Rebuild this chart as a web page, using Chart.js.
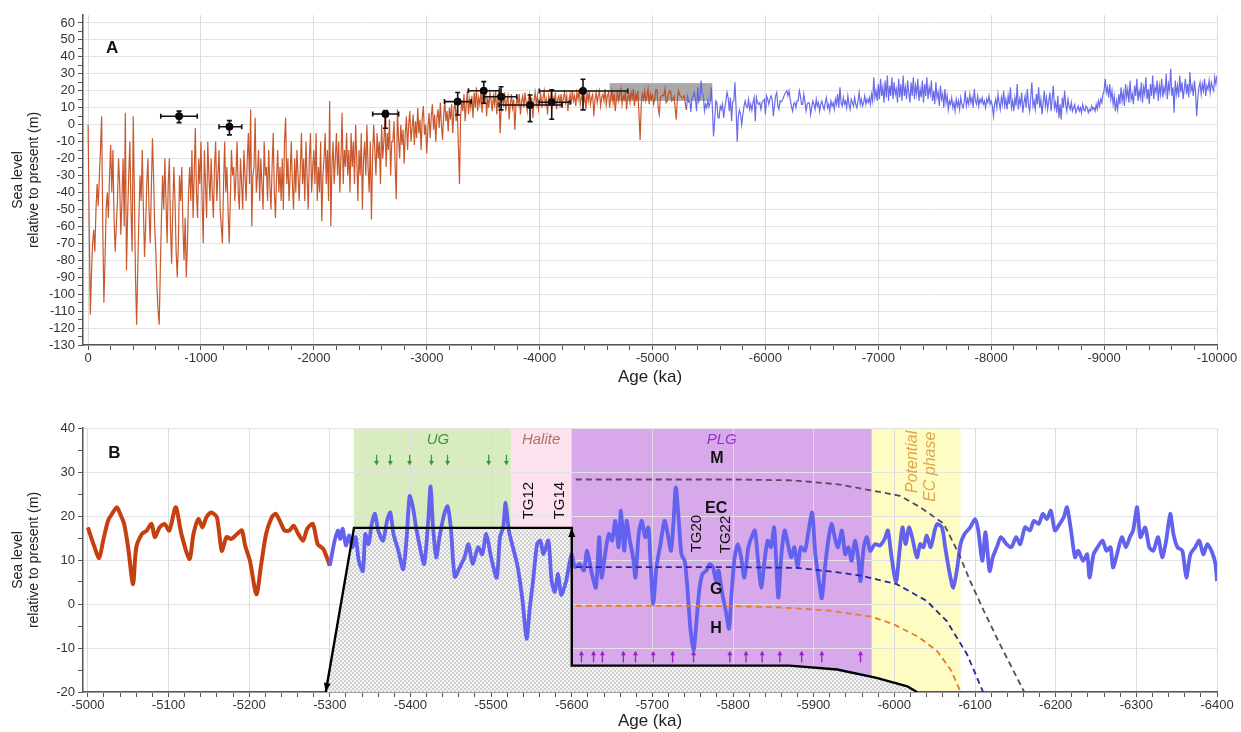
<!DOCTYPE html>
<html><head><meta charset="utf-8">
<script src="https://cdn.jsdelivr.net/npm/chart.js@4.4.1/dist/chart.umd.min.js"></script>
<style>
html,body{margin:0;padding:0;background:#fff;overflow:hidden;}
#wa{position:absolute;left:0;top:0;width:1241px;height:395px;}
#wb{position:absolute;left:0;top:400px;width:1241px;height:332px;}
</style></head><body>
<div id="wa"><canvas id="ca" width="1241" height="395"></canvas></div>
<div id="wb"><canvas id="cb" width="1241" height="332"></canvas></div>
<script>
// ---------------- DATA: panel A ----------------
const A_STEP = -10;
const A_ORANGE_START = 0;
const A_ORANGE = [
0,-60,-112,-88,-70,-62,-75,-50,-35,-48,
-30,-15,5,-60,-105,-80,-50,-40,-55,-30,
-12,-40,-15,-55,-75,-60,-45,-20,-35,-65,
-45,-20,-60,7,-86,-55,-30,-10,-50,-75,
5,-40,-90,-118,-85,-55,-30,-45,-15,-50,
-78,-60,-35,-20,-50,-70,-40,-8,-30,-60,
-75,-95,-110,-118,-85,-55,-30,-50,-20,-45,
-70,-35,-20,-60,-82,-50,-25,-45,-75,-90,
-70,-30,-45,-25,-60,-80,-55,-90,-70,-40,
-25,-45,-15,-55,-30,-2,-40,-55,-20,-35,
-10,-45,-70,-15,-35,-55,-10,-30,-45,-20,
-40,-55,-25,-10,-45,-30,-15,-50,-60,-70,
-35,-10,-40,-25,-50,-70,-45,-15,-30,-25,
-45,-30,-10,-40,-50,-20,-35,-50,-15,-30,
-45,-20,-5,-35,9,-60,-30,-25,4,-40,
-30,-15,-45,-20,-35,-50,-10,-30,-25,-45,
-15,-35,-50,-25,-5,-40,-55,-30,-15,-40,
-25,-45,-20,-50,-10,4,-35,-20,-45,-30,
-10,-35,-50,-20,-40,-15,-30,-45,-25,-5,
-35,-20,-45,-10,-30,-50,-20,-5,-40,-25,
-15,-35,-5,-45,-25,-40,-10,-57,-30,-20,
-5,-35,-15,-45,14,-60,-25,-10,-35,-20,
-5,-30,-10,-40,-20,7,-35,-15,-25,-5,
-30,-15,-40,-5,-25,-10,-35,0,-20,-45,
-15,-30,-5,-50,-20,-10,-30,0,-25,-40,
-10,-56,-20,0,-15,-30,-5,-20,-10,-35,
0,-20,-10,5,-25,-5,-15,3,-30,-10,
-10,2,-25,-44,9,-8,-20,0,-12,-3,
-23,-5,5,-15,0,8,-10,-2,6,-12,
2,-8,10,-5,3,-15,4,11,-6,0,
-17,-2,7,-8,5,12,-3,6,-10,4,
9,-2,13,0,-9,6,14,2,8,-4,
10,3,12,-5,8,15,2,9,-12,-35,
5,14,8,18,2,12,20,6,15,10,
17,4,19,10,22,8,16,12,20,7,
18,12,22,5,16,10,19,14,8,17,
12,20,6,15,18,-5,10,16,12,19,
8,14,17,3,12,18,10,15,-3,11,
16,12,18,6,14,17,10,19,13,8,
15,18,11,16,4,14,19,12,17,9,
14,18,10,16,20,12,15,6,17,13,
18,11,16,14,19,9,15,17,12,18,
10,16,19,13,17,8,15,18,12,20,
14,17,11,19,15,21,12,16,18,13,
17,9,19,14,20,12,16,18,5,15,
19,13,17,20,11,16,18,14,21,12,
17,19,10,16,20,13,18,8,15,19,
14,18,21,12,17,15,20,9,16,18,
13,19,16,21,11,18,15,20,6,-9,
12,18,15,20,14,17,21,12,18,15,
17.4,12,15,20.5,20.5,10,6,16,17,17.4,
17,21,13,14,18,20,19.7,14,15,16.7,
10,3,15,20,17.5,16.7,16,16,17,12.5,
8.7
];
const A_BLUE_START = -5300;
const A_BLUE = [
8.7,16.7,13.3,14,7.5,16,16.7,18.9,15,8,22,13.6,16,26,18,17.4,8,12,10,14.4,
10.6,13,22,10,-7,2,14,13,4,4,
11,9,12,4,10,14,19,16,8,16,
2,13.6,14,25,9.8,-10,5,8.5,6,0,
6,10.6,14,11,10,15,9,12,8.4,13,
16,2,16,13,12,13,9,13,14,15,
6,17,15,12,15,17,15,5,11,17,
19,11,9,14,13.5,14.5,16,18,19,20,
17,19.7,15,11,8,12,13,10,14,14,
20,17,12,12,18,13.5,8,12,13,12.5,
6,
10,14,12,9,15,11,13,8,12,14,
11,9,13,16,10,12,8,14,11,13,
9,15,12,18,10,22,13,11,16,12,
14,10,17,12,9,15,13,11,16,12,
10,14,19,12,15,11,13,17,12,15,
13,16,12,18,14,28,16,20,14,24,
15,27,17,22,13,26,16,29,14,23,
17,28,15,25,18,21,13,27,16,24,
14,29,17,22,15,26,19,13,25,17,
28,15,23,18,27,14,21,16,26,13,
24,17,28,15,22,18,26,14,20,12,
25,16,19,11,23,15,18,10,21,13,
17,9,14,12,16,10,13,8,15,11,
14,9,16,12,10,13,20,11,15,12,
18,13,16,10,21,14,12,17,11,15,
13,16,12,14,10,15,13,17,12,14,
11,5,12,15,10,18,13,9,16,12,
20,11,15,9,17,12,22,10,14,8,
16,11,24,9,15,12,19,7,13,17,
10,21,12,8,16,25,11,14,9,18,
12,22,10,15,6,13,20,11,16,9,
14,19,8,15,23,10,13,7,17,4,
12,3,16,10,20,12,8,15,11,9,
13,8,10,12,7,9,11,8,10,7,
12,9,8,11,10,7,9,8,11,9,
10,8,12,9,14,11,15,13,18,20,
27,19,22,16,24,15,20,12,17,8,
14,9,18,12,22,14,19,11,24,16,
21,13,26,15,18,12,23,17,27,14,
20,16,25,13,22,18,28,15,21,12,
24,17,29,15,22,19,26,14,23,18,
27,16,22,19,30,15,24,20,33,17,
22,7,26,18,23,16,29,19,25,15,
21,27,18,24,16,31,20,23,17,26,
19,5,16,22,25,18,24,20,27,17,
23,21,26,19,25,22,20,28,24,29
];
// dated points with error bars
const A_PTS_AGE       = [-806, -1252, -2634, -3274, -3505, -3658, -3915, -4107, -4384];
const A_PTS_VAL       = [5, -1.2, 6.3, 13.6, 20, 16.5, 11.6, 13.2, 19.9];
const A_PTS_AGE_YOUNG = [-644, -1160, -2521, -3157, -3369, -3502, -3640, -3997, -3997];
const A_PTS_AGE_OLD   = [-967, -1361, -2751, -3393, -3643, -3797, -4196, -4269, -4780];
const A_PTS_VAL_HI    = [8, 2.4, 8.3, 19, 25.4, 22.4, 17.5, 20.5, 26.8];
const A_PTS_VAL_LO    = [1.2, -6, -2.1, 5.7, 12.6, 8.7, 1.8, 3.2, 8.7];
const A_BOX_AGE = [-4620, -5530];
const A_BOX_VAL = [14, 24.5];
const A_X_MAJOR = [0,-1000,-2000,-3000,-4000,-5000,-6000,-7000,-8000,-9000,-10000];
const A_Y_MAJOR = [-130,-120,-110,-100,-90,-80,-70,-60,-50,-40,-30,-20,-10,0,10,20,30,40,50,60];

// ---------------- DATA: panel B ----------------
const B_ORANGE_AGE = [-5000,-5007,-5014,-5019,-5025,-5030,-5036,-5040,-5045,-5050,-5056,-5060,-5067,-5073,-5079,-5083,-5089,-5095,-5101,-5109,-5116,-5126,-5131,-5137,-5142,-5147,-5153,-5160,-5166,-5172,-5178,-5185,-5191,-5195,-5201,-5209,-5215,-5221,-5228,-5233,-5238,-5244,-5250,-5255,-5261,-5267,-5272,-5279,-5285,-5292,-5300];
const B_ORANGE_VAL = [17.4,13.6,10.4,14.4,18.9,20.5,22,20.5,18.2,12.8,4.5,12.8,15.9,16.7,18.2,15.2,17.4,18.2,16.7,22,15.9,10.2,15.9,19.3,17.4,19.7,20.8,19.7,12.1,15.2,14.8,15.9,16.7,13.3,9.8,2.2,9.1,15.9,19.7,20.5,18.9,16.7,16.7,17.8,15.9,14.4,17.1,18.2,13.6,12.5,8.7];
const B_BLUE = [
[-5300,8.7],[-5302,10.6],[-5306,14.4],[-5310,16.7],[-5313,14.8],[-5316,17.1],[-5320,13.3],[-5324,15.6],[-5328,12.9],[-5332,15.2],
[-5336,9.8],[-5341,7.5],[-5344,15.9],[-5348,13.6],[-5352,18.2],[-5356,20.5],[-5360,16.7],[-5366,14.4],[-5371,18.9],[-5375,20.8],
[-5379,15.9],[-5385,12.1],[-5391,7.9],[-5395,14.4],[-5399,24.5],[-5403,22],[-5407,17.4],[-5411,13.6],[-5417,9.1],[-5422,18.9],
[-5425,26.7],[-5428,17.4],[-5432,10.6],[-5436,15.2],[-5442,20.5],[-5446,22.2],[-5450,17.4],[-5455,6.2],[-5461,8.3],[-5467,10.6],
[-5472,13.6],[-5477,9.1],[-5484,12.9],[-5489,11.3],[-5494,15.9],[-5500,10.6],[-5507,6.0],[-5511,15.2],[-5515,17.4],[-5518,23],
[-5522,16.7],[-5527,12.9],[-5533,8.4],[-5539,0.7],[-5544,-7.9],[-5548,-0.8],[-5552,5.2],[-5557,13.6],[-5561,14.4],[-5565,11.3],
[-5571,14.4],[-5575,5.2],[-5579,2.8],[-5583,6.8],[-5587,2.1],[-5593,5.2],[-5597,9.1],[-5600,11.3],[-5604,8.4],[-5610,9.1],
[-5615,7.6],[-5619,12.1],[-5625,6.8],[-5630,3.7],[-5634,15.2],[-5637,6.0],[-5642,12.1],[-5646,15.9],[-5650,14.4],[-5654,18.9],
[-5658,12.9],[-5661,21.2],[-5665,12.1],[-5668,18.9],[-5672,14.4],[-5676,10.6],[-5679,6.0],[-5683,15.9],[-5687,18.9],[-5691,15.2],
[-5695,17.4],[-5698,8.4],[-5701,0],[-5705,8.4],[-5710,13.6],[-5715,18.9],[-5719,15.9],[-5723,12.1],[-5726,18.2],[-5729,26.5],
[-5733,18.2],[-5736,11.3],[-5740,9.8],[-5743,4.5],[-5747,-5.4],[-5751,-10.7],[-5754,-5.4],[-5758,3],[-5762,6.8],[-5767,7.6],
[-5771,9.1],[-5775,8.4],[-5779,5.2],[-5782,7.6],[-5786,3],[-5791,-1.6],[-5795,-5.6],[-5798,2.2],[-5802,10.6],[-5806,13.6],
[-5810,10.6],[-5814,6.0],[-5819,12.9],[-5823,15.2],[-5827,16.7],[-5831,9.8],[-5835,3.7],[-5839,9.8],[-5843,14.4],[-5847,12.9],
[-5851,17.4],[-5856,1.5],[-5860,11.3],[-5864,16.7],[-5868,13.6],[-5872,10.6],[-5876,12.9],[-5880,8.4],[-5884,12.9],[-5889,12.1],
[-5893,15.9],[-5898,20.8],[-5902,11.3],[-5907,4.5],[-5910,1.3],[-5914,8.4],[-5918,14.4],[-5922,18.2],[-5926,15.2],[-5930,12.9],
[-5935,16.7],[-5939,11.3],[-5943,12.9],[-5947,9.8],[-5951,14.4],[-5955,10.6],[-5958,5.2],[-5962,12.9],[-5966,15.2],[-5970,12.1],
[-5976,13.6],[-5982,13.3],[-5988,14.8],[-5992,16.7],[-5996,11.3],[-6002,4.9],[-6006,11.3],[-6010,17.4],[-6014,13.6],[-6018,17.4],
[-6022,15.2],[-6028,10.6],[-6032,13.6],[-6036,12.9],[-6040,15.6],[-6045,12.9],[-6050,16.7],[-6053,18.2],[-6059,17.4],[-6063,12.9],
[-6068,7.5],[-6073,3.7],[-6078,8.3],[-6082,13.6],[-6087,15.9],[-6094,17.4],[-6100,19.3],[-6104,16.7],[-6109,9.8],[-6113,16.3],
[-6118,7.5],[-6122,10.6],[-6127,12.9],[-6132,15.2],[-6139,13.6],[-6145,12.9],[-6151,15.2],[-6156,13.6],[-6162,17.4],[-6168,16.7],
[-6173,18.9],[-6179,18.2],[-6184,20.5],[-6189,19.3],[-6194,21.2],[-6199,16.7],[-6205,18.2],[-6210,19.7],[-6214,22],[-6219,16.7],
[-6224,10.6],[-6228,12.1],[-6234,9.8],[-6239,11.3],[-6242,6.0],[-6247,11.3],[-6252,12.9],[-6258,14.4],[-6263,12.1],[-6268,12.9],
[-6271,8.3],[-6276,11.3],[-6282,15.2],[-6287,12.9],[-6292,15.2],[-6296,16.7],[-6301,22],[-6305,15.2],[-6311,17.4],[-6316,12.9],
[-6321,12.1],[-6327,15.2],[-6332,10.6],[-6337,14.4],[-6342,20.5],[-6346,15.9],[-6351,12.9],[-6357,12.1],[-6362,6.0],[-6367,11.3],
[-6373,12.9],[-6378,14.4],[-6383,11.3],[-6388,13.6],[-6394,11.7],[-6398,9.1],[-6400,5.2]
];
const B_M_AGE = [-5605,-5700,-5800,-5875,-5930,-5972,-6007,-6032,-6061,-6080,-6094,-6111,-6131,-6161];
const B_M_VAL = [28.3,28.3,28.3,28.1,27.2,25.8,24.6,22,18.3,11.4,5.2,-1.6,-9.2,-20];
const B_G_AGE = [-5605,-5700,-5800,-5880,-5930,-5960,-5978,-6003,-6040,-6065,-6090,-6110];
const B_G_VAL = [8.4,8.4,8.4,8.2,7.2,6.4,5.6,4.5,0.7,-3.9,-11.4,-20];
const B_H_AGE = [-5605,-5700,-5800,-5850,-5920,-5972,-5999,-6030,-6053,-6070,-6082];
const B_H_VAL = [-0.4,-0.4,-0.5,-0.7,-1.5,-2.9,-4.6,-7.5,-10.7,-15,-19.9];
const B_FLOOR_AGE = [-5295,-5330,-5600,-5600,-5870,-5929,-5978,-6016,-6028];
const B_FLOOR_VAL = [-20,17.3,17.3,-14,-14,-14.9,-16.8,-18.7,-20];
const B_PHASE_NAMES = ['UG','Halite','PLG','Potential EC phase'];
const B_PHASE_FROM  = [-5330,-5525,-5600,-5972];
const B_PHASE_TO    = [-5525,-5600,-5972,-6082];
const B_UG_ARROWS  = [-5358,-5375,-5399,-5426,-5446,-5497,-5519];
const B_PLG_ARROWS = [-5612,-5627,-5638,-5664,-5679,-5701,-5725,-5751,-5796,-5816,-5836,-5858,-5885,-5910,-5958];
const B_X_MAJOR = [-5000,-5100,-5200,-5300,-5400,-5500,-5600,-5700,-5800,-5900,-6000,-6100,-6200,-6300,-6400];
const B_Y_MAJOR = [-20,-10,0,10,20,30,40];

// ---------------- helpers ----------------
const FONT = '"Liberation Sans", Arial, Helvetica, sans-serif';
Chart.defaults.font.family = FONT;
Chart.defaults.color = '#333';
Chart.defaults.animation = false;

const seq = (start, step, vals) => vals.map((v, i) => ({x: start + i * step, y: v}));
const zip = (ages, vals) => ages.map((a, i) => ({x: a, y: vals[i]}));

function withMinor(major, sub) {
  const out = [];
  for (let i = 0; i < major.length; i++) {
    out.push(major[i]);
    if (i < major.length - 1) {
      const d = (major[i + 1] - major[i]) / sub;
      for (let k = 1; k < sub; k++) out.push(major[i] + k * d);
    }
  }
  return out;
}
function isMajor(v, major) { return major.some(m => Math.abs(m - v) < 1e-6); }

function scales(o) {
  const xt = withMinor(o.xMajor, o.xSub), yt = withMinor(o.yMajor, o.ySub);
  return {
    x: {
      type: 'linear', reverse: true, min: o.xmin, max: o.xmax,
      afterBuildTicks: s => { s.ticks = xt.map(v => ({value: v})); },
      afterFit: s => { s.height = o.xh; },
      ticks: {autoSkip: false, maxRotation: 0, padding: 1, font: {size: 13}, color: '#333',
        callback: v => isMajor(v, o.xMajor) ? String(Math.round(v)) : ''},
      grid: {color: c => (c.tick && isMajor(c.tick.value, o.xMajor)) ? '#dcdcdc' : 'rgba(0,0,0,0)',
        tickColor: '#555', tickLength: 5, lineWidth: 1},
      border: {display: true, color: '#555', width: 1.5},
      title: {display: true, text: 'Age (ka)', font: {size: 17}, color: '#222', padding: {top: 0, bottom: o.titlePad}}
    },
    y: {
      type: 'linear', min: o.ymin, max: o.ymax,
      afterBuildTicks: s => { s.ticks = yt.map(v => ({value: v})); },
      afterFit: s => { s.width = 83; },
      ticks: {autoSkip: false, padding: 3, font: {size: 13}, color: '#333',
        callback: v => isMajor(v, o.yMajor) ? String(Math.round(v)) : ''},
      grid: {color: c => (c.tick && isMajor(c.tick.value, o.yMajor)) ? '#e3e3e3' : 'rgba(0,0,0,0)',
        tickColor: '#555', tickLength: 5, lineWidth: 1},
      border: {display: true, color: '#555', width: 1.5},
      title: {display: true, text: ['Sea level', 'relative to present (m)'], font: {size: 14, lineHeight: 1.15},
        color: '#222', padding: {top: 10, bottom: 0}}
    }
  };
}

function arrow(ctx, x1, y1, x2, y2, color, head, hw, lw) {
  const a = Math.atan2(y2 - y1, x2 - x1);
  ctx.save();
  ctx.strokeStyle = color; ctx.fillStyle = color; ctx.lineWidth = lw;
  ctx.beginPath(); ctx.moveTo(x1, y1);
  ctx.lineTo(x2 - Math.cos(a) * head * 0.8, y2 - Math.sin(a) * head * 0.8); ctx.stroke();
  ctx.beginPath(); ctx.moveTo(x2, y2);
  ctx.lineTo(x2 - Math.cos(a) * head + Math.sin(a) * hw, y2 - Math.sin(a) * head - Math.cos(a) * hw);
  ctx.lineTo(x2 - Math.cos(a) * head - Math.sin(a) * hw, y2 - Math.sin(a) * head + Math.cos(a) * hw);
  ctx.closePath(); ctx.fill();
  ctx.restore();
}
function text(ctx, s, x, y, font, color, rot) {
  ctx.save(); ctx.font = font; ctx.fillStyle = color; ctx.textAlign = 'center'; ctx.textBaseline = 'middle';
  ctx.translate(x, y); if (rot) ctx.rotate(rot); ctx.fillText(s, 0, 0); ctx.restore();
}

// ---------------- Chart A ----------------
const pluginA = {
  id: 'annotA',
  beforeDatasetsDraw(chart) {
    const {ctx, scales: {x, y}} = chart;
    const x1 = x.getPixelForValue(A_BOX_AGE[0]), x2 = x.getPixelForValue(A_BOX_AGE[1]);
    const y1 = y.getPixelForValue(A_BOX_VAL[1]), y2 = y.getPixelForValue(A_BOX_VAL[0]);
    ctx.save(); ctx.fillStyle = '#a9a9a9'; ctx.fillRect(x1, y1, x2 - x1, y2 - y1); ctx.restore();
  },
  afterDatasetsDraw(chart) {
    const {ctx, scales: {x, y}} = chart;
    ctx.save(); ctx.strokeStyle = '#111'; ctx.lineWidth = 1.6;
    for (let i = 0; i < A_PTS_AGE.length; i++) {
      const px = x.getPixelForValue(A_PTS_AGE[i]), py = y.getPixelForValue(A_PTS_VAL[i]);
      const xa = x.getPixelForValue(A_PTS_AGE_YOUNG[i]), xb = x.getPixelForValue(A_PTS_AGE_OLD[i]);
      const ya = y.getPixelForValue(A_PTS_VAL_HI[i]), yb = y.getPixelForValue(A_PTS_VAL_LO[i]);
      ctx.beginPath();
      ctx.moveTo(xa, py); ctx.lineTo(xb, py);
      ctx.moveTo(xa, py - 2.5); ctx.lineTo(xa, py + 2.5);
      ctx.moveTo(xb, py - 2.5); ctx.lineTo(xb, py + 2.5);
      ctx.moveTo(px, ya); ctx.lineTo(px, yb);
      ctx.moveTo(px - 2.5, ya); ctx.lineTo(px + 2.5, ya);
      ctx.moveTo(px - 2.5, yb); ctx.lineTo(px + 2.5, yb);
      ctx.stroke();
    }
    ctx.restore();
    text(ctx, 'A', x.getPixelForValue(-213), y.getPixelForValue(45.3), 'bold 17px ' + FONT, '#111');
  }
};

new Chart(document.getElementById('ca'), {
  type: 'line',
  data: {datasets: [
    {data: zip(A_PTS_AGE, A_PTS_VAL), showLine: false, pointRadius: 3.6, pointBackgroundColor: '#000',
     pointBorderColor: '#000', order: 0},
    {data: seq(A_ORANGE_START, A_STEP, A_ORANGE), borderColor: 'rgba(196,70,22,0.9)', borderWidth: 1.2,
     pointRadius: 0, tension: 0, order: 2},
    {data: seq(A_BLUE_START, A_STEP, A_BLUE), borderColor: 'rgba(98,98,236,0.95)', borderWidth: 1.2,
     pointRadius: 0, tension: 0, order: 3}
  ]},
  options: {
    responsive: false, animation: false, parsing: false, normalized: true,
    layout: {padding: {top: 15, right: 24, left: 0, bottom: 0}},
    plugins: {legend: {display: false}, tooltip: {enabled: false}},
    scales: scales({xmin: -10000, xmax: 45, xMajor: A_X_MAJOR, xSub: 5, xh: 50, titlePad: 7,
                    ymin: -130, ymax: 64.7, yMajor: A_Y_MAJOR, ySub: 2})
  },
  plugins: [pluginA]
});

// ---------------- Chart B ----------------
const PHASE_FILL = ['#d9ecc0', '#fde1ee', '#d8a9ea', '#fdfcc3'];
const pat = document.createElement('canvas'); pat.width = 4; pat.height = 4;
{ const p = pat.getContext('2d'); p.fillStyle = '#f4f4f4'; p.fillRect(0, 0, 4, 4);
  p.fillStyle = '#d2d2d2'; p.fillRect(0, 0, 2, 2); p.fillRect(2, 2, 2, 2); }
const hatch = document.getElementById('cb').getContext('2d').createPattern(pat, 'repeat');

const pluginB = {
  id: 'annotB',
  beforeDraw(chart) {
    const {ctx, chartArea: ca, scales: {x}} = chart;
    ctx.save();
    for (let i = 0; i < B_PHASE_NAMES.length; i++) {
      const x1 = x.getPixelForValue(B_PHASE_FROM[i]), x2 = x.getPixelForValue(B_PHASE_TO[i]);
      ctx.fillStyle = PHASE_FILL[i]; ctx.fillRect(x1, ca.top, x2 - x1, ca.bottom - ca.top);
    }
    ctx.restore();
  },
  afterDatasetsDraw(chart) {
    const {ctx, scales: {x, y}} = chart;
    const X = a => x.getPixelForValue(a), Y = v => y.getPixelForValue(v);
    arrow(ctx, X(-5330), Y(17.3), X(-5295), Y(-20), '#000', 9, 3.5, 0.01);
    arrow(ctx, X(-5600), Y(10), X(-5600), Y(17.3), '#000', 9, 3.5, 0.01);
    B_UG_ARROWS.forEach(a => arrow(ctx, X(a), Y(33.9), X(a), Y(31.5), '#2e9e33', 4.5, 2.5, 1.3));
    B_PLG_ARROWS.forEach(a => arrow(ctx, X(a), Y(-13.3), X(a), Y(-10.6), '#9b1fc4', 4.5, 2.5, 1.3));
    const it = 'italic 15px ' + FONT;
    text(ctx, 'UG', X(-5434), Y(37.2), it, '#3b9a3b');
    text(ctx, 'Halite', X(-5562), Y(37.2), it, '#a87563');
    text(ctx, 'PLG', X(-5786), Y(37.2), it, '#9a2fc6');
    text(ctx, 'Potential', X(-6023), Y(32.3), 'italic 16px ' + FONT, '#e3a64a', -Math.PI / 2);
    text(ctx, 'EC phase', X(-6045), Y(31.2), 'italic 16px ' + FONT, '#e3a64a', -Math.PI / 2);
    const tg = '15px ' + FONT;
    text(ctx, 'TG12', X(-5547), Y(23.5), tg, '#111', -Math.PI / 2);
    text(ctx, 'TG14', X(-5585), Y(23.5), tg, '#111', -Math.PI / 2);
    text(ctx, 'TG20', X(-5755), Y(16), tg, '#111', -Math.PI / 2);
    text(ctx, 'TG22', X(-5791), Y(15.8), tg, '#111', -Math.PI / 2);
    const bf = 'bold 16px ' + FONT;
    text(ctx, 'M', X(-5780), Y(33.1), bf, '#111');
    text(ctx, 'EC', X(-5779), Y(21.7), bf, '#111');
    text(ctx, 'G', X(-5779), Y(3.2), bf, '#111');
    text(ctx, 'H', X(-5779), Y(-5.7), bf, '#111');
    text(ctx, 'B', X(-5033), Y(34.2), 'bold 17px ' + FONT, '#111');
  }
};

const floor = zip(B_FLOOR_AGE, B_FLOOR_VAL);
new Chart(document.getElementById('cb'), {
  type: 'line',
  data: {datasets: [
    {data: floor, borderColor: '#000', borderWidth: 2.4, pointRadius: 0, fill: false, order: 0},
    {data: zip(B_M_AGE, B_M_VAL), borderColor: '#5c4660', borderWidth: 1.8, borderDash: [6, 4], pointRadius: 0, fill: false, order: 1},
    {data: zip(B_G_AGE, B_G_VAL), borderColor: '#27279c', borderWidth: 1.8, borderDash: [6, 4], pointRadius: 0, fill: false, order: 1},
    {data: zip(B_H_AGE, B_H_VAL), borderColor: '#ea7a2c', borderWidth: 1.8, borderDash: [6, 4], pointRadius: 0, fill: false, order: 1},
    {data: B_BLUE.map(p => ({x: p[0], y: p[1]})), borderColor: '#6262ee', borderWidth: 3.8, pointRadius: 0, tension: 0.25, fill: false, order: 2},
    {data: zip(B_ORANGE_AGE, B_ORANGE_VAL), borderColor: '#c63f0f', borderWidth: 4, pointRadius: 0, tension: 0.25, fill: false, order: 3},
    {data: floor, borderWidth: 0, borderColor: 'rgba(0,0,0,0)', backgroundColor: hatch, pointRadius: 0, fill: 'start', order: 10}
  ]},
  options: {
    responsive: false, animation: false, parsing: false, normalized: true,
    layout: {padding: {top: 28, right: 24, left: 0, bottom: 0}},
    plugins: {legend: {display: false}, tooltip: {enabled: false}},
    scales: scales({xmin: -6400, xmax: -4994, xMajor: B_X_MAJOR, xSub: 5, xh: 40, titlePad: 0,
                    ymin: -20, ymax: 40, yMajor: B_Y_MAJOR, ySub: 2})
  },
  plugins: [pluginB]
});
</script>
</body></html>
